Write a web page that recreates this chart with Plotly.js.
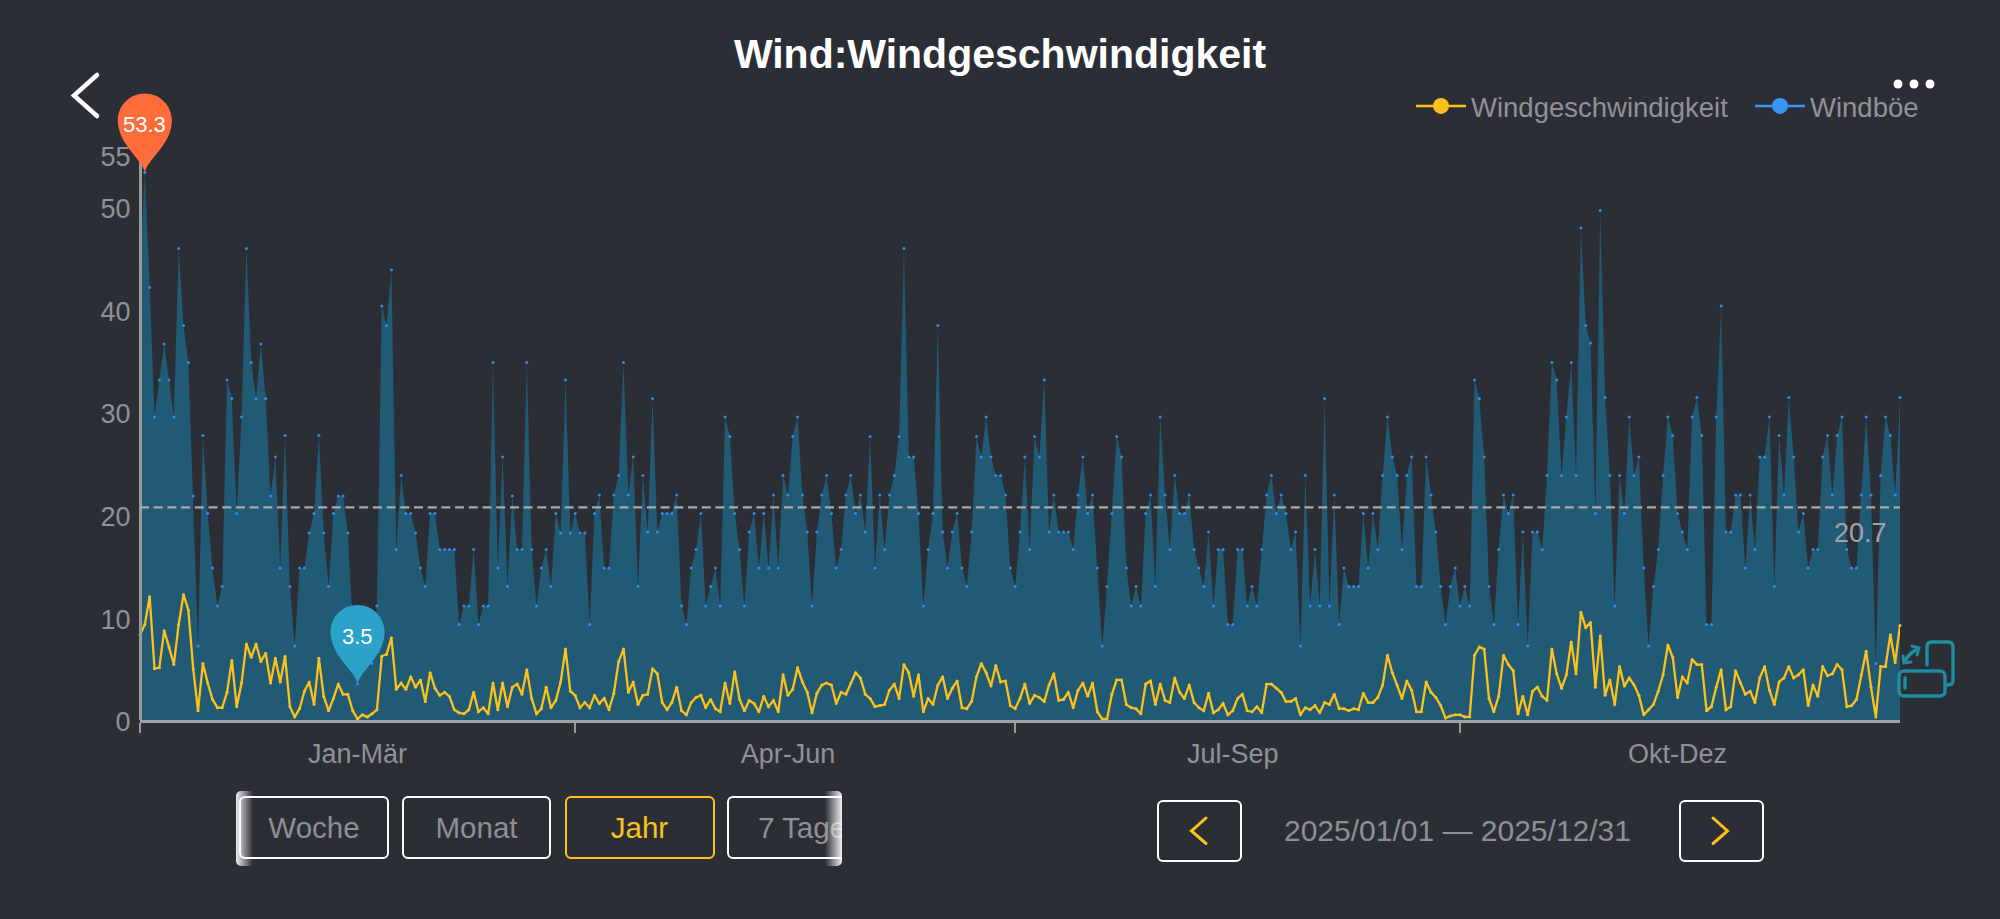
<!DOCTYPE html>
<html><head><meta charset="utf-8">
<script src="https://cdn.plot.ly/plotly-3.0.1.min.js"></script>
<style>
html,body{margin:0;padding:0;background:#2c2e36;width:2000px;height:919px;overflow:hidden;font-family:"Liberation Sans",Arial,sans-serif}
#chart{position:absolute;left:0;top:0;width:2000px;height:919px}
.ui{position:absolute;box-sizing:border-box;border:2.5px solid #fff;border-radius:6px;color:#8e8f94;font-size:29.5px;display:flex;align-items:center;justify-content:center;height:63px;top:796px;white-space:nowrap}
#strip{position:absolute;left:236px;top:791px;width:606px;height:75px;overflow:hidden;border-radius:5px}
#strip .ui{top:5px}
.fade{position:absolute;top:0;width:17px;height:75px}
#dates{position:absolute;left:1284px;top:812px;color:#8e8f94;font-size:30px;white-space:nowrap;line-height:38px}
</style></head><body>
<div id="chart"></div>
<div id="strip">
  <div class="ui" style="left:3px;width:150px">Woche</div>
  <div class="ui" style="left:166px;width:149px">Monat</div>
  <div class="ui" style="left:328.5px;width:150px;color:#fcc21b;border-color:#fcc21b">Jahr</div>
  <div class="ui" style="left:491px;width:150px;">7 Tage</div>
  <div class="fade" style="left:0;background:linear-gradient(to right,rgba(255,255,255,.92),rgba(255,255,255,0))"></div>
  <div class="fade" style="right:0;background:linear-gradient(to left,rgba(255,255,255,.92),rgba(255,255,255,0))"></div>
</div>
<div class="ui" style="left:1157px;top:800px;width:85px;height:62px"></div>
<div class="ui" style="left:1679px;top:800px;width:85px;height:62px"></div>
<div id="dates">2025/01/01 — 2025/12/31</div>
<svg width="2000" height="919" style="position:absolute;left:0;top:0;pointer-events:none">
  <path d="M97 75 L74 95.5 L97 116" fill="none" stroke="#fff" stroke-width="4.5" stroke-linecap="round" stroke-linejoin="miter"/>
  <path d="M1206 818 L1191.5 831 L1206 843.5" fill="none" stroke="#fcc21b" stroke-width="3" stroke-linecap="round"/>
  <path d="M1713 818 L1727.5 831 L1713 843.5" fill="none" stroke="#fcc21b" stroke-width="3" stroke-linecap="round"/>
  <circle cx="1898" cy="84" r="4.5" fill="#fff"/><circle cx="1914" cy="84" r="4.5" fill="#fff"/><circle cx="1930" cy="84" r="4.5" fill="#fff"/>
  <g fill="none" stroke="#1f8c9f" stroke-width="3.5" stroke-linecap="round">
    <rect x="1899" y="671" width="46" height="25" rx="5"/>
    <path d="M1927 665 V647 Q1927 642 1932 642 H1948 Q1953 642 1953 647 V680 Q1953 685 1948 685 H1947"/>
    <path d="M1905 678 V688"/>
    <path d="M1905 661 Q1910 652 1918 649" stroke-width="3.5"/>
    <path d="M1903 656 L1904 663 L1911 662" stroke-width="3"/>
    <path d="M1912 646 L1919 648 L1917 655" stroke-width="3"/>
  </g>
</svg>
<script>
var gust = [43.8,53.3,42.1,29.5,33.1,36.6,33.1,29.5,45.9,38.4,
34.8,21.8,7.2,27.7,20.1,14.8,11.1,13.0,33.1,31.3,
20.1,29.5,45.9,34.8,31.3,36.6,31.3,21.8,25.6,14.8,
27.7,13,7.2,14.8,14.8,18.2,20.1,27.7,18.2,13,
20.1,21.8,21.8,18.2,9.3,3.5,5.5,5.5,5.5,11.1,
40.3,38.4,43.8,16.6,23.8,20.1,20.1,18.2,14.8,13,
20.1,20.1,16.6,16.6,16.6,16.6,9.3,11.1,11.1,16.6,
9.3,11.1,11.1,34.8,14.8,25.6,13,21.8,16.6,16.6,
34.8,16.6,11.1,14.8,16.6,13,20.1,18.2,33.1,18.2,
20.1,18.2,18.2,9.3,20.1,21.9,14.8,14.8,21.9,23.8,
34.8,21.9,25.6,13,23.8,18.3,31.3,18.3,20.1,20.1,
20.1,21.9,11.1,9.3,14.8,16.6,20.1,11.1,13,14.8,
11.1,29.5,27.6,20.1,16.6,11.1,18.3,20.1,14.8,20.1,
14.8,21.9,14.8,23.8,21.9,27.6,29.5,21.9,18.3,11.1,
18.3,21.9,23.8,20.1,14.8,16.6,21.9,23.8,20.1,21.9,
18.3,27.6,14.8,21.9,16.6,21.9,23.8,27.6,45.9,25.6,
25.6,20.1,11.1,16.6,20.1,38.4,18.3,14.8,18.3,20.1,
14.8,13,18.3,27.6,25.6,29.5,25.6,23.8,23.8,21.9,
14.8,13,18.3,25.6,16.6,27.6,25.6,33.1,18.3,21.9,
18.3,18.3,18.3,16.6,21.9,25.6,20.1,21.9,14.8,7.2,
13,20.1,27.6,25.6,14.8,11.1,13,11.1,20.1,21.9,
13,29.5,21.9,16.6,23.8,20.1,20.1,21.9,16.6,14.8,
13,18.3,11.1,16.6,16.6,9.3,9.3,16.6,16.6,11.1,
13,11.1,16.6,21.9,23.8,20.1,21.9,20.1,16.6,18.3,
7.2,23.8,11.1,16.6,11.1,31.3,11.1,21.9,9.3,14.8,
13,13,13,20.1,14.8,20.1,16.6,23.8,29.5,25.6,
23.8,16.6,23.8,25.6,13,13,25.6,21.9,18.3,13,
9.3,13,14.8,11.1,13,11.1,33.1,31.3,25.6,13,
9.3,16.6,21.9,20.1,21.9,9.3,18.3,7.2,18.3,18.3,
16.6,23.8,34.8,33.1,23.8,29.5,34.8,23.8,47.9,38.4,
36.7,20.1,49.6,31.4,23.8,11.1,23.8,20.1,29.5,23.8,
25.6,14.8,7.2,13,16.6,23.8,29.5,27.7,20.1,18.3,
16.6,29.5,31.4,27.7,9.3,9.3,29.5,40.3,18.3,18.3,
21.9,21.9,14.8,21.9,16.6,25.6,25.6,29.5,13,27.7,
21.9,31.4,25.6,18.3,20.1,14.8,16.6,16.6,25.6,27.7,
21.9,27.7,29.5,16.6,14.8,14.8,21.9,29.5,21.9,5.5,
23.8,29.5,27.7,21.9,31.4];
var wind = [8.3,9.3,12,5,5.1,8.7,7.1,5.4,9.3,12.2,
10.7,5,.9,5.5,3.6,2,1.2,1.2,2.7,5.8,
1.3,3.6,7.4,6.1,7.4,5.7,6.5,3.6,6,3.7,
6.2,1.3,.3,1.1,2.8,3.7,1.5,6,2.3,.9,
2.1,3.5,2.5,2.5,.9,.1,.5,.3,.6,1,
6.2,6.4,8,3,3.6,3,4.2,3.2,3.9,1.8,
4.6,3.1,2.4,2.7,2.3,1,.7,.6,1,2.7,
.8,1.2,.6,3.6,1,3.6,1.3,3.2,3.5,2.5,
4.9,2.1,.6,1.1,3.2,1.2,1.9,3.7,6.9,2.8,
2.4,1.2,1.7,1.2,2.4,1.6,2.1,1,2.6,5.7,
6.9,2.7,3.7,1.5,2.4,2.5,5,4.5,1.7,1,
1.7,3.2,.9,.5,1.7,2.2,2.4,1.2,2,1.1,
.8,3.6,1.6,4.7,2,.9,1.9,1.6,.8,2.3,
1.3,1.9,.8,4.4,2.4,3,5.1,3.7,2.7,.7,
2.6,3.4,3.6,3.4,1.6,2.7,2.5,3.6,4.6,4.1,
2.5,2.1,1.3,1.4,1.5,2.9,3.5,2.1,5.4,4.6,
2.3,4.4,.8,2.1,1.5,3.4,4.2,2.1,3.1,3.8,
1.2,1.1,1.8,4.2,5.5,4.6,3.3,5.3,3.7,3.8,
1.4,1.1,2.1,3.5,1.6,2.4,2.2,1.8,3.4,4.5,
1.9,2,2.7,1.2,2.9,3.6,2.3,3.6,.8,.1,
.1,2.5,3.9,3.9,1.5,1.2,1.1,.6,3.5,3.8,
1.5,3.5,1.9,1.7,4.1,2.7,2.1,3.4,1.7,1.2,
.9,2.6,.7,1,1.6,.5,.9,2.1,2.5,.9,
.8,1.3,.7,3.5,3.5,3.1,2.7,1.8,1.8,2.1,
.5,1.2,1,1.4,.7,1.7,1.5,2.5,1.1,1.1,
.9,1.1,1,2.6,1.7,1.7,2.2,3.4,6.3,4.6,
3.4,2.1,3.8,2.9,.8,.8,3.7,2.7,2.2,1.4,
.2,.4,.5,.5,.3,.3,6.3,7.1,6.9,2.1,
.8,2.3,6.3,5.4,4.8,.6,2.3,.5,2.8,3.2,
2.3,1.9,6.9,4.5,3.1,4.4,7.6,4.5,10.5,9,
9.5,3.2,8.2,2.4,3.9,1.5,5.2,3.3,4.1,3.4,
2.4,.5,1,1.5,2.8,4.4,7.3,6.1,2.2,4.2,
3.6,5.9,5.4,5.4,.9,1.3,3.2,4.9,1,1.3,
4.8,3.6,2.5,2.8,1.7,4.1,5.2,2.9,1.5,3.7,
4.1,5.2,4.1,4.4,4.9,1.4,3.4,2.3,5.2,4.3,
4.5,5.4,4.9,1.3,1.4,2,4.4,6.7,3.2,.3,
5.2,5.2,8.3,5.6,9.2];
var average = 20.7;
var yTicks = [0,10,20,30,40,50,55];
var quarterLabels = ['Jan-Mär','Apr-Jun','Jul-Sep','Okt-Dez'];
var quarterCenters = ['2025-02-15','2025-05-15','2025-08-15','2025-11-15'];
var quarterStarts = ['2025-01-01','2025-04-01','2025-07-01','2025-10-01'];
var titleText = 'Wind:Windgeschwindigkeit';
var nameWind = 'Windgeschwindigkeit', nameGust = 'Windböe';

if (gust.length !== 365 || wind.length !== 365) throw new Error('len ' + gust.length + ' ' + wind.length);
var dates = gust.map(function(_, i){ return new Date(Date.UTC(2025,0,1+i)).toISOString().slice(0,10); });
var maxV = Math.max.apply(null, gust), minV = Math.min.apply(null, gust);
var iMax = gust.indexOf(maxV), iMin = gust.indexOf(minV);
var yTop = 55, last = gust.length - 1;
var pin = 'M0 0 C-3 14 -27 28 -27 52 C-27 67 -15 79 0 79 C15 79 27 67 27 52 C27 28 3 14 0 0 Z';
var grey = '#909197';

function pinShape(i, v, color){
  return {type:'path', layer:'above', xref:'paper', yref:'paper', xsizemode:'pixel', ysizemode:'pixel',
    xanchor:i/last, yanchor:v/yTop, path:pin, fillcolor:color, line:{width:0}};
}
function pinText(i, v){
  return {xref:'x', yref:'y', x:dates[i], y:v, yshift:48, text:String(v), showarrow:false,
    font:{size:22, color:'#fff', family:'Liberation Sans'}};
}
var data = [
  {x:dates, y:gust, type:'scatter', mode:'lines+markers', fill:'tozeroy', fillcolor:'#215a75',
   line:{width:0, color:'#215a75'}, marker:{size:3, color:'#2f8fe8'}, cliponaxis:false, showlegend:false, hoverinfo:'skip'},
  {x:dates, y:wind, type:'scatter', mode:'lines+markers', line:{width:2.3, color:'#fcc21b'},
   marker:{size:3, color:'#fcc21b'}, cliponaxis:false, showlegend:false, hoverinfo:'skip'},
  {x:[null], y:[null], type:'scatter', mode:'lines+markers', name:nameWind, line:{width:2.5,color:'#fcc21b'}, marker:{size:16,color:'#fcc21b'}},
  {x:[null], y:[null], type:'scatter', mode:'lines+markers', name:nameGust, line:{width:2.5,color:'#3a96f5'}, marker:{size:16,color:'#3a96f5'}}
];
var layout = {
  width:2000, height:919, autosize:false,
  paper_bgcolor:'#2c2e36', plot_bgcolor:'#2c2e36',
  margin:{l:139.5, r:100, t:154.6, b:199, pad:0},
  font:{family:'Liberation Sans, Arial, sans-serif', color:grey, size:27},
  title:{text:titleText, x:0.5, xanchor:'center', xref:'container', y:1, yref:'container', yanchor:'top', pad:{t:39},
         font:{size:41, color:'#fff', family:'Liberation Sans', weight:700}},
  showlegend:true,
  legend:{orientation:'h', xref:'container', yref:'container', x:1411/2000, xanchor:'left', y:1-81.5/919, yanchor:'top',
          font:{size:27.5,color:grey}, itemwidth:50, entrywidth:274, entrywidthmode:'pixels', bgcolor:'rgba(0,0,0,0)', borderwidth:0, itemclick:false},
  xaxis:{type:'date', range:[dates[0], dates[last]], showgrid:false, zeroline:false, showline:true,
         linecolor:'#9ea2a6', linewidth:2.5, tickmode:'array', tickvals:quarterCenters, ticktext:quarterLabels,
         ticks:'outside', ticklen:8, tickcolor:'rgba(0,0,0,0)', tickfont:{size:27,color:grey},
         minor:{tickmode:'array', tickvals:quarterStarts, ticks:'outside', ticklen:10, tickwidth:2.5, tickcolor:'#9a9a9a', showgrid:false}},
  yaxis:{range:[0,yTop], showgrid:false, zeroline:false, showline:true, linecolor:'#9a9a9a', linewidth:3,
         anchor:'free', position:0, ticklabelshift:2, tickmode:'array', tickvals:yTicks, ticktext:yTicks.map(String),
         ticks:'outside', ticklen:3, tickcolor:'rgba(0,0,0,0)', tickfont:{size:27,color:grey}},
  shapes:[
    {type:'line', layer:'above', xref:'paper', yref:'y', x0:0, x1:1, y0:average, y1:average,
     line:{color:'#a9a9ab', width:2.2, dash:'9px,4.7px'}},
    pinShape(iMax, maxV, '#ff6c3b'),
    pinShape(iMin, minV, '#2ba3c9')
  ],
  annotations:[
    pinText(iMax, maxV), pinText(iMin, minV),
    {xref:'paper', yref:'y', x:1, xanchor:'right', xshift:-11, y:average, yshift:-26, text:String(average), showarrow:false,
     font:{size:27,color:'#a2a3a6'}}
  ]
};
Plotly.newPlot('chart', data, layout, {displayModeBar:false, staticPlot:true});
</script>
</body></html>
